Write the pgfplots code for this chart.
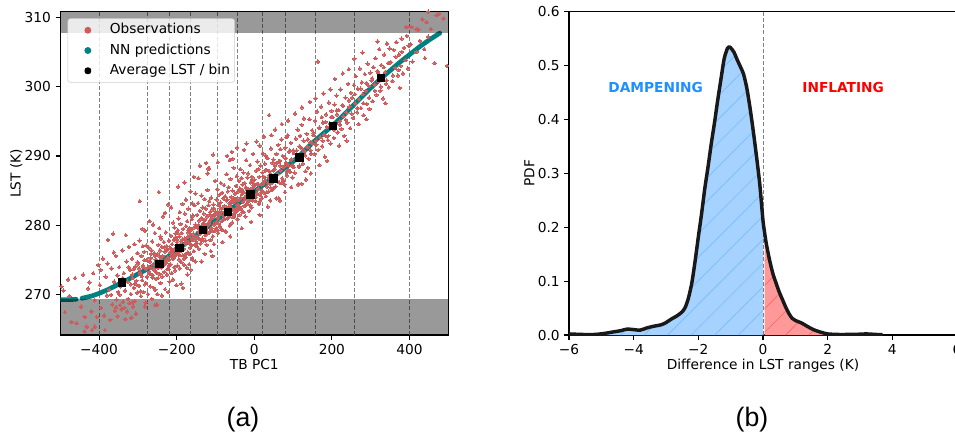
\documentclass[border=0pt]{standalone}
\usepackage{fontspec}
\setmainfont{DejaVu Sans}
\newfontfamily\labfont{Liberation Sans}
\usepackage{pgfplots}
\pgfplotsset{compat=1.18}
\usetikzlibrary{patterns.meta}
\definecolor{indianred}{RGB}{205,92,92}
\definecolor{tealc}{RGB}{0,128,128}
\definecolor{dodgerblue}{RGB}{30,144,255}
\definecolor{bluefill}{RGB}{165,210,255}
\definecolor{redfill}{RGB}{255,153,153}
\definecolor{edgegray}{RGB}{204,204,204}
\newcommand{\tfont}{\fontsize{10.3}{12.4}\selectfont}
\pgfplotsset{
  myax/.style={
    scale only axis, width=291pt, height=242.5pt,
    tick align=outside, tick pos=left, major tick length=3.5pt,
    tick style={black, line width=0.8pt},
    axis line style={line width=0.8pt},
    every tick label/.append style={font=\tfont},
    label style={font=\tfont},
    xlabel style={at={(axis description cs:0.5,-0.106)}, anchor=base, inner sep=0pt},
  }
}
\begin{document}
\begin{tikzpicture}
% ---------------- panel (a) ----------------
\begin{axis}[myax,
  at={(45.2pt,76.5pt)}, anchor=south west,
  xmin=-500, xmax=500, ymin=264.2, ymax=310.8,
  xtick={-400,-200,0,200,400}, xticklabels={−400,−200,0,200,400},
  ytick={270,280,290,300,310}, yticklabels={270,280,290,300,310},
  xlabel={TB PC1}, ylabel={LST (K)},
  ylabel style={at={(axis description cs:-0.102,0.5)}, anchor=base, inner sep=0pt},
  legend cell align=left,
  legend style={at={(0,1)}, anchor=north west, xshift=5.5pt, yshift=-5pt,
    draw=edgegray, fill=white, fill opacity=0.8, text opacity=1,
    rounded corners=2pt, font=\tfont, inner xsep=2pt, inner ysep=2.4pt, row sep=2.5pt,
    nodes={inner sep=1.5pt, text height=7.5pt, text depth=2.2pt}},
]
\pgfplotsinvokeforeach{-400,-275,-218,-165,-96,-42,20,81,157,258,400}{
  \addplot[gray, line width=0.75pt, dash pattern=on 3pt off 1.6pt, forget plot] coordinates {(#1,264.2) (#1,310.8)};
}
% Observations
\addplot[only marks, mark=*, mark size=1.3pt, indianred, mark options={line width=0pt}, forget plot] coordinates {
(-497,271.2) (-488,267.5) (-480,272.2) (-471,266.1) (-476,269.8) (-462,272.4) (-458,265.9) (-492,270.6)
(-437,266.8) (-432,265.4) (-437,264.7) (-446,268.3) (-428,270.9) (-420,267.6) (-415,273.1) (-411,269.2) (-406,266.8) (-411,265.4) (-402,274.3) (-425,271.8) (-441,272.9) (-418,264.9)
(-398,271.4) (-395,268.1) (-390,275.2) (-387,267.0) (-383,272.6) (-380,269.9) (-377,277.9) (-374,270.7) (-371,266.4) (-368,273.8) (-366,268.6) (-364,278.8) (-361,271.9) (-359,267.7) (-357,275.6) (-355,269.3) (-353,272.8) (-352,266.9) (-351,270.4) (-396,273.6) (-385,264.9) (-378,274.5) (-369,270.0) (-362,276.1) (-356,268.2)
(-348,274.0) (-346,268.5) (-344,271.2) (-343,267.9) (-340,276.4) (-338,269.0) (-336,273.1) (-335,268.1) (-333,270.6) (-331,278.6) (-329,274.8) (-328,267.6) (-326,271.9) (-325,269.4) (-323,276.9) (-321,268.8) (-320,273.6) (-318,270.1) (-317,266.7) (-315,275.2) (-313,272.4) (-312,268.3) (-310,271.0) (-309,277.3) (-308,269.1) (-306,274.1) (-305,267.3) (-304,272.0) (-302,270.3) (-301,276.0) (-339,272.4) (-332,266.5) (-324,274.0) (-314,268.9) (-347,270.0)
(-299,274.5) (-297,271.3) (-296,277.8) (-294,273.2) (-292,269.8) (-291,275.6) (-289,272.1) (-288,279.5) (-286,270.4) (-285,274.0) (-283,276.2) (-282,271.5) (-280,268.9) (-279,273.7) (-278,277.1) (-276,272.6) (-275,274.9) (-274,270.1) (-272,276.8) (-271,273.3) (-270,280.6) (-268,271.2) (-267,275.3) (-266,273.9) (-264,269.4) (-263,277.7) (-262,272.8) (-260,274.4) (-259,271.0) (-258,276.0) (-257,273.5) (-256,278.9) (-255,270.7) (-254,275.1) (-253,272.3) (-252,274.8) (-251,268.6) (-265,276.4) (-277,275.0) (-287,277.0) (-293,270.5) (-261,280.1) (-269,273.0) (-281,279.2) (-295,283.5) (-282,268.3) (-256,268.5)
(-249,275.9) (-248,272.4) (-247,277.2) (-246,274.1) (-245,279.6) (-244,273.0) (-243,276.4) (-242,271.7) (-241,275.2) (-240,278.1) (-239,273.9) (-238,276.9) (-237,272.6) (-236,275.6) (-235,281.3) (-234,274.3) (-233,277.6) (-232,273.3) (-231,276.2) (-230,270.8) (-229,275.0) (-228,279.0) (-227,274.6) (-226,277.0) (-225,272.9) (-224,276.5) (-223,275.4) (-222,283.0) (-221,273.7) (-220,277.8) (-219,275.1) (-218,271.9) (-217,276.7) (-216,274.4) (-215,278.5) (-214,275.7) (-213,273.1) (-212,277.3) (-211,276.0) (-210,272.2) (-209,280.4) (-208,275.3) (-207,277.9) (-206,274.0) (-205,276.6) (-204,273.5) (-203,278.8) (-202,275.8) (-201,271.4) (-200,277.1) (-246,284.8) (-238,269.9) (-230,281.8) (-222,270.4) (-214,282.6) (-206,279.7) (-250,270.1) (-242,278.4) (-226,274.9) (-210,276.3)
(-199,277.6) (-198,274.2) (-197,279.3) (-196,276.0) (-195,281.0) (-194,275.1) (-193,278.4) (-192,273.8) (-191,277.2) (-190,280.2) (-189,276.4) (-188,274.7) (-187,278.9) (-186,277.0) (-185,283.1) (-184,275.7) (-183,279.5) (-182,276.6) (-181,274.3) (-180,278.1) (-179,281.7) (-178,277.4) (-177,275.4) (-176,279.9) (-175,277.8) (-174,273.9) (-173,280.6) (-172,278.3) (-171,276.1) (-170,282.4) (-169,277.6) (-168,279.0) (-167,275.9) (-166,278.6) (-165,276.8) (-164,284.9) (-163,279.4) (-162,277.1) (-161,280.9) (-160,275.3) (-159,278.2) (-158,281.4) (-157,277.9) (-156,276.3) (-155,279.7) (-154,282.9) (-153,278.5) (-152,274.8) (-151,280.1) (-150,277.4) (-196,285.6) (-188,271.6) (-180,286.2) (-172,272.9) (-164,273.6) (-156,287.0) (-192,281.9) (-176,283.7) (-160,283.2) (-184,271.0) (-168,274.4) (-152,284.6) (-198,278.9) (-170,279.3) (-158,275.0)
(-149,279.8) (-148,277.0) (-147,281.5) (-146,278.3) (-145,283.2) (-144,279.1) (-143,276.6) (-142,280.7) (-141,278.0) (-140,282.1) (-139,279.5) (-138,277.4) (-137,281.0) (-136,284.3) (-135,279.9) (-134,278.1) (-133,282.6) (-132,280.3) (-131,277.8) (-130,281.7) (-129,279.3) (-128,283.8) (-127,280.8) (-126,278.6) (-125,282.4) (-124,279.7) (-123,277.2) (-122,281.3) (-121,285.1) (-120,280.0) (-119,278.9) (-118,282.9) (-117,280.4) (-116,283.5) (-115,279.0) (-114,281.9) (-113,277.9) (-112,280.9) (-111,284.0) (-110,279.6) (-109,282.3) (-108,281.2) (-107,278.4) (-106,290.2) (-105,283.0) (-104,280.1) (-103,281.6) (-102,279.2) (-101,286.4) (-100,282.0) (-144,286.8) (-136,274.8) (-128,275.9) (-120,287.5) (-112,276.3) (-104,277.3) (-140,288.6) (-124,289.0) (-116,288.2) (-108,275.6)
(-99,281.8) (-98,279.6) (-97,283.7) (-96,280.5) (-95,285.2) (-94,281.1) (-93,278.9) (-92,282.9) (-91,280.2) (-90,284.4) (-89,281.6) (-88,279.8) (-87,283.3) (-86,286.1) (-85,282.0) (-84,280.6) (-83,284.7) (-82,282.5) (-81,279.3) (-80,283.9) (-79,281.4) (-78,285.8) (-77,282.8) (-76,280.9) (-75,284.2) (-74,281.9) (-73,279.1) (-72,283.6) (-71,287.4) (-70,282.2) (-69,281.0) (-68,284.9) (-67,282.6) (-66,285.5) (-65,281.3) (-64,283.2) (-63,280.0) (-62,283.0) (-61,286.7) (-60,281.7) (-59,284.1) (-58,282.4) (-57,280.4) (-56,285.0) (-55,283.4) (-54,281.5) (-53,288.3) (-52,283.8) (-51,282.1) (-50,284.6) (-94,289.1) (-82,277.6) (-70,290.0) (-62,278.4) (-56,289.6) (-58,290.6) (-63,289.4) (-119,288.2)
(-49,283.6) (-48,281.9) (-47,285.7) (-46,282.5) (-45,287.1) (-44,283.0) (-43,280.9) (-42,284.9) (-41,282.3) (-40,286.4) (-39,283.7) (-38,281.5) (-37,285.3) (-36,288.1) (-35,284.0) (-34,282.4) (-33,286.8) (-32,284.5) (-31,281.9) (-30,285.9) (-29,283.4) (-28,287.6) (-27,284.8) (-26,282.8) (-25,286.1) (-24,283.9) (-23,281.3) (-22,285.5) (-21,289.4) (-20,284.3) (-19,283.1) (-18,286.9) (-17,284.6) (-16,287.5) (-15,283.5) (-14,285.2) (-13,282.1) (-12,285.0) (-11,288.7) (-10,283.8) (-9,286.2) (-8,284.4) (-7,282.6) (-6,287.0) (-5,285.4) (-4,283.6) (-3,290.3) (-2,285.8) (-1,284.1) (0,286.6) (-44,291.2) (-32,279.6) (-20,291.8) (-8,280.5) (-26,290.9)
(2,285.8) (4,283.5) (5,287.9) (7,284.6) (8,289.2) (10,285.3) (12,283.1) (13,287.0) (15,284.4) (16,288.6) (18,285.9) (19,283.9) (21,287.6) (22,290.4) (24,286.2) (26,284.7) (27,288.9) (28,286.5) (30,284.2) (31,288.0) (33,285.6) (34,289.7) (36,286.9) (37,284.9) (38,295.9) (40,286.0) (41,283.6) (42,287.4) (43,291.1) (45,286.3) (46,285.1) (47,289.0) (48,286.7) (49,289.5) (50,285.4) (6,292.1) (14,281.5) (25,292.8) (35,282.7) (44,293.0) (11,288.1) (20,285.0) (29,290.1) (39,287.8) (3,284.0) (14,291.5)
(52,288.1) (55,285.6) (57,290.3) (60,287.4) (62,291.6) (64,286.2) (66,289.3) (68,287.9) (70,292.4) (72,286.8) (74,290.0) (76,288.4) (78,285.9) (80,291.2) (82,289.0) (84,287.2) (86,293.0) (88,288.7) (90,290.6) (92,287.7) (94,291.9) (96,289.5) (98,286.9) (100,290.8) (54,293.8) (63,283.9) (71,294.6) (79,284.8) (87,295.1) (95,285.5) (58,289.0) (67,291.0) (75,286.5) (83,292.7) (99,288.5) (57,283.9) (66,283.6)
(102,290.4) (104,287.6) (107,292.5) (110,289.8) (112,293.8) (115,288.4) (117,291.4) (120,290.0) (122,294.5) (125,288.9) (127,292.2) (130,290.7) (132,287.8) (135,293.2) (137,291.3) (140,289.6) (142,295.3) (144,292.0) (147,290.3) (149,293.7) (105,296.1) (113,285.9) (123,297.0) (133,286.6) (143,297.8) (118,292.9) (128,295.4) (138,288.3) (146,287.5) (150,291.8) (122,286.0)
(152,293.0) (155,290.3) (157,295.1) (160,292.2) (162,296.4) (165,290.9) (167,294.0) (170,292.7) (172,297.1) (175,291.4) (177,294.8) (180,293.1) (182,289.9) (185,296.0) (187,294.2) (190,292.3) (192,297.7) (195,294.7) (197,291.8) (199,296.5) (164,303.6) (168,288.7) (178,299.0) (188,289.3) (196,299.6) (158,298.3) (184,292.9) (174,295.6)
(202,295.6) (205,292.6) (207,297.4) (210,294.6) (212,298.7) (215,293.4) (218,296.6) (220,295.0) (222,299.6) (225,293.9) (227,297.3) (230,295.7) (232,292.9) (235,298.4) (237,296.3) (240,294.8) (242,300.4) (245,297.1) (247,294.0) (249,299.1) (208,301.1) (219,291.5) (228,301.9) (238,292.2) (244,302.5) (213,296.0)
(252,298.4) (255,295.5) (257,300.2) (260,297.6) (262,301.5) (265,296.3) (267,299.7) (270,298.2) (272,302.6) (275,296.9) (277,300.6) (280,298.9) (282,295.9) (285,301.8) (287,299.4) (290,297.5) (292,303.3) (295,300.1) (297,296.8) (299,302.0) (258,304.0) (269,294.6) (279,304.9) (289,295.3)
(302,300.9) (305,297.9) (307,302.8) (310,300.3) (312,304.1) (315,298.8) (317,302.2) (320,300.8) (322,305.4) (325,299.4) (327,303.1) (330,301.5) (332,298.3) (335,304.6) (337,302.1) (340,300.4) (342,306.2) (345,303.4) (347,299.9) (349,305.5) (318,306.5) (338,297.6)
(352,303.5) (356,300.8) (359,305.3) (363,302.7) (366,306.4) (370,301.6) (373,304.6) (377,303.0) (380,306.9) (383,301.9) (386,305.6) (390,303.8) (393,307.3) (396,302.6) (398,305.9) (375,299.8) (392,308.6)
(405,308.6) (403,306.1) (408,303.6) (418,308.3) (418,305.0) (423,308.2) (427,306.6) (433,309.7) (438,305.4) (440,304.1) (444,309.3) (448,310.8) (448,307.2)
(455,308.3) (470,310.3) (476,310.5) (465,303.4) (488,309.8) (497,303.0)
(-318,271.5) (-311,273.7) (-304,271.5) (-297,273.8) (-290,272.7) (-283,275.0) (-276,272.6) (-269,274.8) (-262,272.5) (-255,275.6) (-248,273.9) (-241,275.3) (-234,274.2) (-227,276.4) (-220,274.2) (-213,276.6) (-206,275.6) (-199,277.9) (-192,275.7) (-185,278.0) (-178,275.8) (-171,279.0) (-164,277.3) (-157,278.8) (-150,277.7) (-143,280.0) (-136,277.8) (-129,280.2) (-122,279.1) (-115,281.5) (-108,279.2) (-101,281.5) (-94,279.3) (-87,282.5) (-80,280.8) (-73,282.3) (-66,281.2) (-59,283.5) (-52,281.3) (-45,283.7) (-38,282.7) (-31,285.1) (-24,282.8) (-17,285.1) (-10,282.9) (-3,286.1) (4,284.4) (11,285.9) (18,284.8) (25,287.0) (32,284.8) (39,287.2) (46,286.2) (53,288.6) (60,286.3) (67,288.6) (74,286.5) (81,289.7) (88,288.0) (95,289.5) (102,288.4) (109,290.8) (116,288.6) (123,291.1)
(-314.5,272.9) (-307.5,271.6) (-300.5,274.7) (-293.5,272.9) (-286.5,274.2) (-279.5,271.7) (-272.5,274.0) (-265.5,275.9) (-258.5,273.8) (-251.5,273.2) (-244.5,275.6) (-237.5,274.8) (-230.5,276.8) (-223.5,273.7) (-216.5,276.1) (-209.5,275.2) (-202.5,278.3) (-195.5,276.2) (-188.5,277.7) (-181.5,275.2) (-174.5,277.7) (-167.5,279.6) (-160.5,277.9) (-153.5,277.2) (-146.5,279.7) (-139.5,278.8) (-132.5,280.9) (-125.5,277.8) (-118.5,280.2) (-111.5,279.4) (-104.5,282.5) (-97.5,280.4) (-90.5,281.9) (-83.5,279.4) (-76.5,281.9) (-69.5,283.7) (-62.5,281.9) (-55.5,281.2) (-48.5,283.7) (-41.5,282.9) (-34.5,285.0) (-27.5,281.9) (-20.5,284.3) (-13.5,283.5) (-6.5,286.6) (0.5,284.5) (7.5,286.0) (14.5,283.5) (21.5,286.0) (28.5,287.9) (35.5,286.1) (42.5,285.4) (49.5,287.9) (56.5,287.1) (63.5,289.2) (70.5,286.1) (77.5,288.5) (84.5,287.7) (91.5,290.8) (98.5,288.7)
(131,290.1) (138,292.4) (145,290.8) (153,293.3) (160,291.6) (168,294.1) (176,292.2) (183,294.9) (191,292.9) (198,295.6) (206,293.8) (213,296.6) (221,294.5) (229,297.2) (236,295.2) (244,298.0) (251,296.1) (259,298.9) (266,296.9) (274,299.7) (281,297.6) (289,300.5) (296,298.4) (304,301.2) (311,299.4) (319,302.0) (326,300.0) (334,302.8) (341,300.9) (349,303.4) (357,301.6) (364,304.3) (372,302.4) (380,305.0)
};
% NN predictions
\addplot[tealc, line width=3.5pt, line cap=round, forget plot] coordinates {
(-500,269.3) (-480,269.3) (-459,269.35)
};
\addplot[tealc, line width=3.5pt, line cap=round, forget plot] coordinates {
(-444,269.5) (-420,269.8) (-400,270.2) (-375,270.8) (-350,271.5) (-325,272.2) (-300,273.0) (-275,273.7) (-250,274.5) (-225,275.4) (-200,276.4) (-175,277.5) (-150,278.6) (-125,279.6) (-100,280.7) (-75,281.7) (-50,282.8) (-25,283.8) (0,284.9) (25,285.9) (50,287.0) (75,288.1) (100,289.2) (125,290.5) (150,291.9) (175,293.1) (200,294.3) (225,295.6) (250,297.0) (275,298.4) (300,299.8) (325,301.1) (350,302.3) (375,303.5) (400,304.6) (425,305.7) (450,306.7) (478,307.7)
};
% Average LST / bin
\addplot[only marks, mark=square*, mark size=2.75pt, black, forget plot] coordinates {
(-341,271.8) (-245,274.5) (-193.5,276.8) (-132.5,279.4) (-68.8,282.0) (-10.5,284.5) (48.7,286.8) (115.7,289.8) (203,294.4) (326,301.3)
};
% excluded ranges
\addplot[fill=black, fill opacity=0.4, draw=none, forget plot] coordinates {(-500,307.7) (500,307.7) (500,310.8) (-500,310.8)} -- cycle;
\addplot[fill=black, fill opacity=0.4, draw=none, forget plot] coordinates {(-500,264.2) (500,264.2) (500,269.4) (-500,269.4)} -- cycle;
\addlegendimage{legend image code/.code={\path[draw=none, fill=none] (0,0) -- (28pt,0); \fill[indianred, draw=none, fill opacity=1] (13pt,0) circle (2.6pt);}}
\addlegendentry{Observations}
\addlegendimage{legend image code/.code={\path[draw=none, fill=none] (0,0) -- (28pt,0); \fill[tealc, draw=none, fill opacity=1] (13pt,0) circle (2.6pt);}}
\addlegendentry{NN predictions}
\addlegendimage{legend image code/.code={\path[draw=none, fill=none] (0,0) -- (28pt,0); \fill[black, draw=none, fill opacity=1] (10.5pt,-2.5pt) rectangle (15.5pt,2.5pt);}}
\addlegendentry{Average LST / bin}
\end{axis}
% ---------------- panel (b) ----------------
\begin{axis}[myax,
  at={(426.75pt,76.5pt)}, anchor=south west,
  xmin=-6, xmax=6, ymin=0, ymax=0.6,
  xtick={-6,-4,-2,0,2,4,6}, xticklabels={−6,−4,−2,0,2,4,6},
  ytick={0,0.1,0.2,0.3,0.4,0.5,0.6}, yticklabels={0.0,0.1,0.2,0.3,0.4,0.5,0.6},
  xlabel={Difference in LST ranges (K)}, ylabel={PDF},
  ylabel style={at={(axis description cs:-0.0894,0.5)}, anchor=base, inner sep=0pt},
]
\addplot[fill=bluefill, draw=none] coordinates {
(-6.0,0.002) (-5.6,0.001) (-5.2,0.001) (-4.9,0.003) (-4.6,0.006) (-4.4,0.008) (-4.2,0.011) (-4.0,0.010) (-3.8,0.009) (-3.6,0.013) (-3.4,0.016) (-3.15,0.019) (-3.0,0.023) (-2.85,0.029) (-2.65,0.036) (-2.5,0.043) (-2.4,0.052) (-2.3,0.070) (-2.2,0.097) (-2.1,0.137) (-2.0,0.182) (-1.9,0.225) (-1.8,0.272) (-1.7,0.312) (-1.6,0.355) (-1.5,0.394) (-1.4,0.436) (-1.3,0.475) (-1.2,0.513) (-1.1,0.532) (-1.05,0.535) (-1.0,0.533) (-0.9,0.525) (-0.8,0.511) (-0.7,0.498) (-0.6,0.484) (-0.5,0.458) (-0.4,0.421) (-0.3,0.378) (-0.2,0.331) (-0.1,0.280) (0.0,0.212)
} \closedcycle;
\addplot[draw=none, pattern={Lines[angle=45,distance=12.5pt,line width=0.5pt]}, pattern color=dodgerblue!60] coordinates {
(-6.0,0.002) (-5.6,0.001) (-5.2,0.001) (-4.9,0.003) (-4.6,0.006) (-4.4,0.008) (-4.2,0.011) (-4.0,0.010) (-3.8,0.009) (-3.6,0.013) (-3.4,0.016) (-3.15,0.019) (-3.0,0.023) (-2.85,0.029) (-2.65,0.036) (-2.5,0.043) (-2.4,0.052) (-2.3,0.070) (-2.2,0.097) (-2.1,0.137) (-2.0,0.182) (-1.9,0.225) (-1.8,0.272) (-1.7,0.312) (-1.6,0.355) (-1.5,0.394) (-1.4,0.436) (-1.3,0.475) (-1.2,0.513) (-1.1,0.532) (-1.05,0.535) (-1.0,0.533) (-0.9,0.525) (-0.8,0.511) (-0.7,0.498) (-0.6,0.484) (-0.5,0.458) (-0.4,0.421) (-0.3,0.378) (-0.2,0.331) (-0.1,0.280) (0.0,0.212)
} \closedcycle;
\addplot[fill=redfill, draw=none] coordinates {
(0.05,0.190) (0.1,0.170) (0.2,0.140) (0.3,0.115) (0.4,0.097) (0.5,0.080) (0.6,0.066) (0.7,0.052) (0.8,0.040) (0.9,0.031) (1.0,0.027) (1.2,0.022) (1.4,0.015) (1.6,0.009) (1.8,0.005) (2.0,0.002) (2.3,0.001) (2.6,0.001) (2.9,0.0013) (3.2,0.002) (3.5,0.001) (3.7,0.0005)
} \closedcycle;
\addplot[draw=none, pattern={Lines[angle=45,distance=12.5pt,line width=0.5pt]}, pattern color=red!60] coordinates {
(0.05,0.190) (0.1,0.170) (0.2,0.140) (0.3,0.115) (0.4,0.097) (0.5,0.080) (0.6,0.066) (0.7,0.052) (0.8,0.040) (0.9,0.031) (1.0,0.027) (1.2,0.022) (1.4,0.015) (1.6,0.009) (1.8,0.005) (2.0,0.002) (2.3,0.001) (2.6,0.001) (2.9,0.0013) (3.2,0.002) (3.5,0.001) (3.7,0.0005)
} \closedcycle;
\addplot[gray, line width=0.75pt, dash pattern=on 3pt off 1.6pt] coordinates {(0,0) (0,0.6)};
\addplot[black!90, line width=2.6pt, line join=round, smooth, tension=0.4] coordinates {
(-6.0,0.002) (-5.6,0.001) (-5.2,0.001) (-4.9,0.003) (-4.6,0.006) (-4.4,0.008) (-4.2,0.011) (-4.0,0.010) (-3.8,0.009) (-3.6,0.013) (-3.4,0.016) (-3.15,0.019) (-3.0,0.023) (-2.85,0.029) (-2.65,0.036) (-2.5,0.043) (-2.4,0.052) (-2.3,0.070) (-2.2,0.097) (-2.1,0.137) (-2.0,0.182) (-1.9,0.225) (-1.8,0.272) (-1.7,0.312) (-1.6,0.355) (-1.5,0.394) (-1.4,0.436) (-1.3,0.475) (-1.2,0.513) (-1.1,0.532) (-1.05,0.535) (-1.0,0.533) (-0.9,0.525) (-0.8,0.511) (-0.7,0.498) (-0.6,0.484) (-0.5,0.458) (-0.4,0.421) (-0.3,0.378) (-0.2,0.331) (-0.1,0.280) (0.0,0.212) (0.05,0.190) (0.1,0.170) (0.2,0.140) (0.3,0.115) (0.4,0.097) (0.5,0.080) (0.6,0.066) (0.7,0.052) (0.8,0.040) (0.9,0.031) (1.0,0.027) (1.2,0.022) (1.4,0.015) (1.6,0.009) (1.8,0.005) (2.0,0.002) (2.3,0.001) (2.6,0.001) (2.9,0.0013) (3.2,0.002) (3.5,0.001) (3.7,0.0005)
};
\node[font=\fontsize{10.3}{12.4}\selectfont\bfseries, text=dodgerblue] at (axis cs:-3.32,0.459) {DAMPENING};
\node[font=\fontsize{10.3}{12.4}\selectfont\bfseries, text=red] at (axis cs:2.48,0.459) {INFLATING};
\end{axis}
\node[font=\labfont\fontsize{20}{24}\selectfont, inner sep=0pt] at (182.25pt,13.35pt) {(a)};
\node[font=\labfont\fontsize{20}{24}\selectfont, inner sep=0pt] at (564pt,13.35pt) {(b)};
\pgfresetboundingbox
\useasboundingbox (0pt,0pt) rectangle (716.25pt,327.75pt);
\end{tikzpicture}
\end{document}
